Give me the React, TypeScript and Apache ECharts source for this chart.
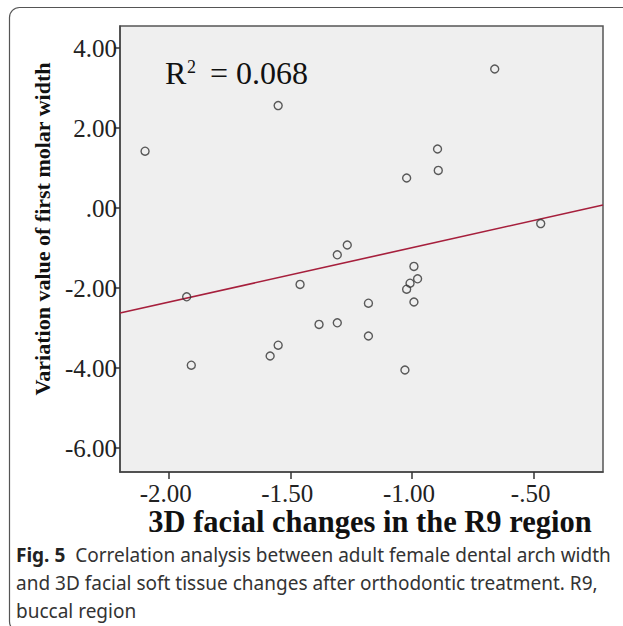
import React, { useEffect, useRef } from "react";
import * as echarts from "echarts";

const xValues = [-2.097, -1.55, -1.926, -1.46, -1.307, -1.266, -1.382, -1.307, -0.66, -0.895, -0.892, -1.022, -0.471, -0.992, -0.977, -1.008, -1.022, -0.992, -1.179, -1.179, -1.907, -1.583, -1.55, -1.029];
const yValues = [1.42, 2.56, -2.22, -1.91, -1.17, -0.925, -2.91, -2.87, 3.475, 1.475, 0.94, 0.75, -0.39, -1.46, -1.77, -1.88, -2.03, -2.35, -2.38, -3.2, -3.93, -3.7, -3.43, -4.05];
const fitX = [-2.2, -0.215];
const fitY = [-2.625, 0.075];
const xTicks = [-2, -1.5, -1, -0.5];
const yTicks = [-6, -4, -2, 0, 2, 4];
const xTitle = "3D facial changes in the R9 region";
const yTitle = "Variation value of first molar width";
const rSquared = "0.068";
const captionBold = "Fig. 5";
const captionLines = [
  "Correlation analysis between adult female dental arch width",
  "and 3D facial soft tissue changes after orthodontic treatment. R9,",
  "buccal region",
];

const fmt = (v: any) => Number(v).toFixed(2).replace(/^(-?)0\./, "$1.");
const SERIF = "'Liberation Serif', 'Times New Roman', serif";
const SANS = "'Noto Sans', sans-serif";

export default function App() {
  const ref = useRef<HTMLDivElement>(null);
  useEffect(() => {
    document.body.style.margin = "0";
    const chart = echarts.init(ref.current!, null, { renderer: "svg" });
    const points = xValues.map((x, i) => [x, yValues[i]]);
    const fit = fitX.map((x, i) => [x, fitY[i]]);
    chart.setOption({
      animation: false,
      backgroundColor: "#ffffff",
      grid: {
        left: 120,
        right: 20,
        top: 26,
        bottom: 154,
        show: true,
        backgroundColor: "#efefef",
        borderColor: "#555",
        borderWidth: 1.5,
      },
      xAxis: {
        type: "value",
        min: -2.2,
        max: -0.215,
        axisLine: { show: true, onZero: false, lineStyle: { color: "#444", width: 1.5 } },
        axisTick: { show: true, length: 7, lineStyle: { color: "#333", width: 1.5 }, customValues: xTicks },
        axisLabel: {
          customValues: xTicks,
          formatter: fmt,
          fontFamily: SERIF,
          fontSize: 25,
          color: "#222",
          margin: 9,
          padding: [0, 6, 0, 0],
        },
        splitLine: { show: false },
      },
      yAxis: {
        type: "value",
        min: -6.6,
        max: 4.55,
        axisLine: { show: true, onZero: false, lineStyle: { color: "#444", width: 1.5 } },
        axisTick: { show: true, length: 6, lineStyle: { color: "#333", width: 1.5 }, customValues: yTicks },
        axisLabel: {
          customValues: yTicks,
          formatter: fmt,
          fontFamily: SERIF,
          fontSize: 25,
          color: "#222",
          margin: 3,
        },
        splitLine: { show: false },
      },
      series: [
        {
          type: "line",
          data: fit,
          showSymbol: false,
          lineStyle: { color: "#a61f3c", width: 1.6 },
          z: 2,
        },
        {
          type: "scatter",
          data: points,
          symbol: "circle",
          symbolSize: 8,
          itemStyle: { color: "rgba(0,0,0,0)", borderColor: "#333", borderWidth: 1.4 },
          z: 3,
        },
      ],
      graphic: [
        {
          type: "rect",
          shape: { x: 9.5, y: 7.5, width: 700, height: 624, r: 10 },
          style: { fill: "none", stroke: "#555", lineWidth: 1.2 },
          silent: true,
        },
        {
          type: "text",
          x: 165,
          y: 73,
          style: { text: "R", font: `32px ${SERIF}`, fill: "#111", align: "left", verticalAlign: "middle" },
        },
        {
          type: "text",
          x: 187,
          y: 67,
          style: { text: "2", font: `18px ${SERIF}`, fill: "#111", align: "left", verticalAlign: "middle" },
        },
        {
          type: "text",
          x: 210,
          y: 73,
          style: { text: "= " + rSquared, font: `32px ${SERIF}`, fill: "#111", align: "left", verticalAlign: "middle" },
        },
        {
          type: "text",
          x: 42,
          y: 229,
          rotation: Math.PI / 2,
          style: { text: yTitle, font: `bold 22px ${SERIF}`, fill: "#111", align: "center", verticalAlign: "middle" },
        },
        {
          type: "text",
          x: 370,
          y: 522,
          style: { text: xTitle, font: `bold 30.5px ${SERIF}`, fill: "#111", align: "center", verticalAlign: "middle" },
        },
        {
          type: "text",
          x: 16,
          y: 541,
          style: {
            text: `{b|${captionBold}}  ` + captionLines.join("\n"),
            fontFamily: SANS,
            fontSize: 19,
            lineHeight: 28,
            fill: "#333",
            align: "left",
            verticalAlign: "top",
            rich: {
              b: { fontFamily: SANS, fontSize: 19, fontWeight: "bold", fill: "#222", lineHeight: 28 },
            },
          },
        },
      ],
    });
    return () => chart.dispose();
  }, []);
  return <div ref={ref} style={{ width: 623, height: 626 }} />;
}
